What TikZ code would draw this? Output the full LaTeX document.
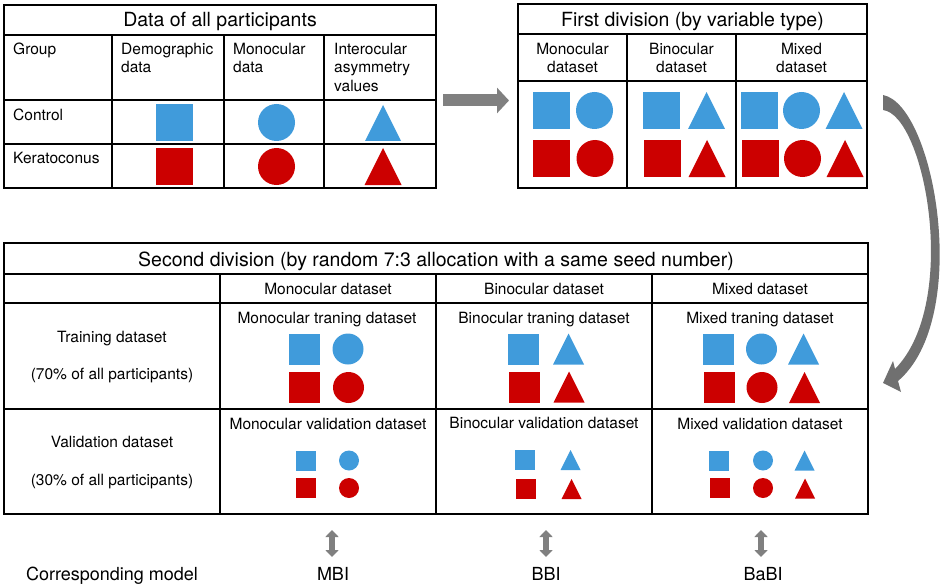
\documentclass[tikz,border=0pt]{standalone}
\usepackage{fontspec}
\setmainfont{TeX Gyre Heros}
\usetikzlibrary{arrows.meta}
\definecolor{cblue}{RGB}{64,155,219}
\definecolor{cred}{RGB}{204,0,0}
\definecolor{agray}{RGB}{128,128,128}
\definecolor{cgray}{RGB}{112,112,112}
\newcommand{\mysq}[4]{\fill[#4] (#1-#3/2,#2-#3/2) rectangle (#1+#3/2,#2+#3/2);}
\newcommand{\mycirc}[4]{\fill[#4] (#1,#2) circle[radius=#3/2];}
\newcommand{\mytri}[4]{\fill[#4] (#1-#3/2,#2+#3/2) -- (#1+#3/2,#2+#3/2) -- (#1,#2-#3/2) -- cycle;}
\begin{document}
\begin{tikzpicture}[x=1pt,y=-1pt,
  lbl/.style={inner sep=0pt,font=\fontsize{15.5}{18.5}\selectfont},
  ttl/.style={inner sep=0pt,font=\fontsize{19.5}{23}\selectfont,anchor=base},
  mdl/.style={inner sep=0pt,font=\fontsize{18}{21}\selectfont,anchor=base},
  bshape/.style={fill=cblue},
  rshape/.style={fill=cred},
  tblout/.style={line width=2pt},
  tblin/.style={line width=1.5pt},
  blockarrow/.style={agray,line width=12pt,-{Triangle[length=12pt,width=25pt]}},
  dblarrow/.style={agray,line width=6pt,{Triangle[length=7pt,width=13pt]}-{Triangle[length=7pt,width=13pt]}}
]
\useasboundingbox (0,0) rectangle (941,588);

% ---------- Table 1 ----------
\draw[tblin] (4,35) -- (436,35) (4,100) -- (436,100) (4,144) -- (436,144);
\draw[tblin] (112,35) -- (112,188) (224,35) -- (224,188) (324,35) -- (324,188);
\draw[tblout] (4,5) rectangle (436,188);
\node[ttl] (t1) at (220,27) {Data of all participants};
\node[lbl,anchor=base west] (grp) at (13,55) {Group};
\node[lbl,anchor=base west] (dem1) at (121,55) {Demographic};
\node[lbl,anchor=base west] (dem2) at (121,73) {data};
\node[lbl,anchor=base west] (mon1) at (233,55) {Monocular};
\node[lbl,anchor=base west] (mon2) at (233,73) {data};
\node[lbl,anchor=base west] (int1) at (334,55) {Interocular};
\node[lbl,anchor=base west] (int2) at (334,73) {asymmetry};
\node[lbl,anchor=base west] (int3) at (334,92) {values};
\node[lbl,anchor=base west] (ctl) at (13,121) {Control};
\node[lbl,anchor=base west] (ker) at (13,164) {Keratoconus};
\mysq{174.5}{122.5}{37}{bshape}
\mysq{174.5}{166.5}{37}{rshape}
\mycirc{276.5}{122.5}{37}{bshape}
\mycirc{276.5}{166.5}{37}{rshape}
\mytri{383}{123}{36}{bshape}
\mytri{383}{166.5}{37}{rshape}

% ---------- Table 2 ----------
\draw[tblin] (518,34) -- (867,34) (518,81) -- (867,81);
\draw[tblin] (627,34) -- (627,188) (736,34) -- (736,188);
\draw[tblout] (518,4) rectangle (867,188);
\node[ttl] (t2) at (692.5,27) {First division (by variable type)};
\node[lbl,anchor=base] (h2a1) at (572.5,55) {Monocular};
\node[lbl,anchor=base] (h2a2) at (572.5,73) {dataset};
\node[lbl,anchor=base] (h2b1) at (681.5,55) {Binocular};
\node[lbl,anchor=base] (h2b2) at (681.5,73) {dataset};
\node[lbl,anchor=base] (h2c1) at (801.5,55) {Mixed};
\node[lbl,anchor=base] (h2c2) at (801.5,73) {dataset};
\mysq{551.5}{110.5}{37}{bshape}
\mycirc{594.5}{110.5}{37}{bshape}
\mysq{551.5}{158.5}{37}{rshape}
\mycirc{595}{158.5}{37}{rshape}
\mysq{661.5}{110.5}{37}{bshape}
\mytri{706.5}{110.5}{37}{bshape}
\mysq{662}{158.5}{37}{rshape}
\mytri{707}{158.5}{37}{rshape}
\mysq{759}{110.5}{37}{bshape}
\mycirc{801.5}{110.5}{37}{bshape}
\mytri{844}{110.5}{37}{bshape}
\mysq{760}{158.5}{37}{rshape}
\mycirc{802.5}{158.5}{37}{rshape}
\mytri{845}{158.5}{37}{rshape}

% ---------- Table 3 ----------
\draw[tblin] (4,274) -- (868,274) (4,303) -- (868,303) (4,409) -- (868,409);
\draw[tblin] (220,274) -- (220,514) (436,274) -- (436,514) (652,274) -- (652,514);
\draw[tblout] (4,243) rectangle (868,514);
\node[ttl] (t3) at (436,266) {Second division (by random 7:3 allocation with a same seed number)};
\node[lbl,anchor=base] (h3a) at (328,294) {Monocular dataset};
\node[lbl,anchor=base] (h3b) at (544,294) {Binocular dataset};
\node[lbl,anchor=base] (h3c) at (760,294) {Mixed dataset};
\node[lbl,anchor=base] (tr1) at (112,342) {Training dataset};
\node[lbl,anchor=base] (tr2) at (112,379) {(70\% of all participants)};
\node[lbl,anchor=base] (va1) at (112,447) {Validation dataset};
\node[lbl,anchor=base] (va2) at (112,485) {(30\% of all participants)};
\node[lbl,anchor=base] (tra) at (327,323) {Monocular traning dataset};
\node[lbl,anchor=base] (trb) at (544,323) {Binocular traning dataset};
\node[lbl,anchor=base] (trc) at (760,323) {Mixed traning dataset};
\node[lbl,anchor=base] (vaa) at (328,429) {Monocular validation dataset};
\node[lbl,anchor=base] (vab) at (544,428) {Binocular validation dataset};
\node[lbl,anchor=base] (vac) at (760,429) {Mixed validation dataset};
% training shapes
\mysq{304.5}{349}{31}{bshape}
\mycirc{348}{349}{31}{bshape}
\mysq{304.5}{387}{31}{rshape}
\mycirc{348.5}{387.5}{31}{rshape}
\mysq{523.5}{349}{31}{bshape}
\mytri{568.5}{349}{31}{bshape}
\mysq{524}{387}{31}{rshape}
\mytri{569}{387}{31}{rshape}
\mysq{718.5}{349}{31}{bshape}
\mycirc{761.5}{349}{31}{bshape}
\mytri{803.5}{349}{31}{bshape}
\mysq{719.5}{387}{31}{rshape}
\mycirc{762}{387.5}{31}{rshape}
\mytri{804.5}{387.5}{31}{rshape}
% validation shapes
\mysq{305.5}{460.5}{20}{bshape}
\mycirc{349}{460.5}{20}{bshape}
\mysq{305.5}{488}{20}{rshape}
\mycirc{349}{488}{20}{rshape}
\mysq{525}{460}{20}{bshape}
\mytri{570.5}{460}{20}{bshape}
\mysq{526}{489}{20}{rshape}
\mytri{571.5}{489}{20}{rshape}
\mysq{719}{460.5}{20}{bshape}
\mycirc{763}{460.5}{20}{bshape}
\mytri{804.5}{460.5}{20}{bshape}
\mysq{720}{488}{20}{rshape}
\mycirc{763}{488}{20}{rshape}
\mytri{805}{488.5}{20}{rshape}

% ---------- bottom labels ----------
\node[mdl] (cm) at (112,580) {Corresponding model};
\node[mdl] (mbi) at (333,580) {MBI};
\node[mdl] (bbi) at (546,580) {BBI};
\node[mdl] (babi) at (763,580) {BaBI};
\coordinate (m1) at (332,530); \coordinate (m2) at (332,557);
\coordinate (b1) at (546,530); \coordinate (b2) at (546,557);
\coordinate (x1) at (761,530); \coordinate (x2) at (761,557);
\draw[dblarrow] (m1) -- (m2);
\draw[dblarrow] (b1) -- (b2);
\draw[dblarrow] (x1) -- (x2);

% ---------- arrows between tables ----------
\coordinate (a1) at (443,100.5);
\coordinate (a2) at (509,100.5);
\draw[blockarrow] (a1) -- (a2);
\coordinate (cs) at (883,95);
\fill[cgray] (cs) .. controls (935,105) and (972,318) .. (898,381)
  -- (901,392) -- (883,383) -- (893,361) -- (895,369)
  .. controls (960,303) and (925,115) .. (883,110) -- cycle;
\end{tikzpicture}
\end{document}
